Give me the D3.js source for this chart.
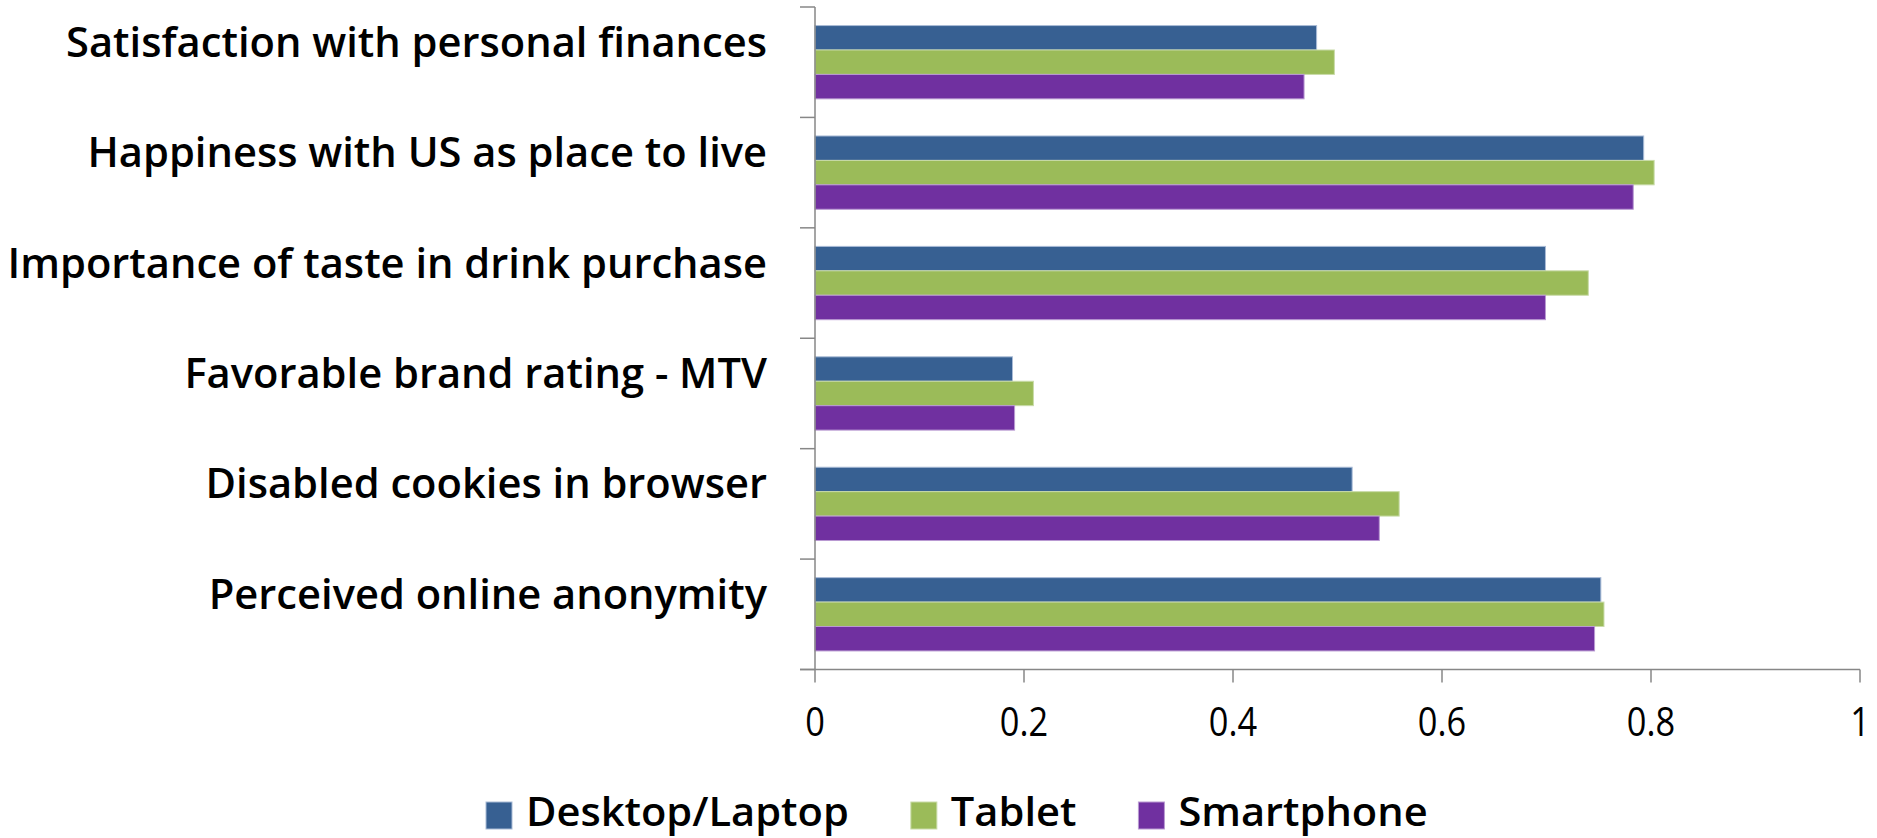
<!DOCTYPE html>
<html>
<head>
<meta charset="utf-8">
<script src="https://cdn.jsdelivr.net/npm/d3@7"></script>
<style>
  html, body { margin: 0; padding: 0; background: #fff; }
  svg { display: block; }
</style>
</head>
<body>
<div id="chart"></div>
<script>
// categories, top to bottom
const categories = [
    'Satisfaction with personal finances',
    'Happiness with US as place to live',
    'Importance of taste in drink purchase',
    'Favorable brand rating - MTV',
    'Disabled cookies in browser',
    'Perceived online anonymity'
];
const seriesNames = ['Desktop/Laptop', 'Tablet', 'Smartphone'];
const desktopValues = [0.480, 0.793, 0.699, 0.189, 0.514, 0.752];
const tabletValues = [0.497, 0.803, 0.740, 0.209, 0.559, 0.755];
const smartphoneValues = [0.468, 0.783, 0.699, 0.191, 0.540, 0.746];
const xTicks = [0, 0.2, 0.4, 0.6, 0.8, 1];

const seriesValues = [desktopValues, tabletValues, smartphoneValues];
const colors = ['#376092', '#9BBB59', '#7030A0'];
const strokes = ['#a9bbd6', '#c9dba8', '#b99ad2'];

const width = 1877;
const height = 838;
const plot = { left: 815, right: 1860, top: 7, bottom: 669.5 };

const svg = d3.select('#chart')
    .append('svg')
    .attr('width', width)
    .attr('height', height);

// scales
const xScale = d3.scaleLinear()
    .domain([0, 1])
    .range([plot.left, plot.right]);

const yScale = d3.scaleBand()
    .domain(categories)
    .range([plot.top, plot.bottom])
    .padding(0);

const ySeries = d3.scaleBand()
    .domain(seriesNames)
    .range([0, yScale.bandwidth()])
    .paddingInner(0)
    .paddingOuter(0.76);

// bars
const rows = categories.map((c, i) => ({
    category: c,
    values: seriesNames.map((s, j) => ({ series: s, idx: j, value: seriesValues[j][i] }))
}));

const groups = svg.selectAll('.group')
    .data(rows)
    .enter()
    .append('g')
    .attr('class', 'group')
    .attr('transform', d => `translate(0, ${yScale(d.category)})`);

groups.selectAll('rect')
    .data(d => d.values)
    .enter()
    .append('rect')
    .attr('x', xScale(0))
    .attr('y', d => ySeries(d.series))
    .attr('width', d => xScale(d.value) - xScale(0))
    .attr('height', ySeries.bandwidth())
    .attr('fill', d => colors[d.idx])
    .attr('stroke', d => strokes[d.idx])
    .attr('stroke-width', 1);

// axes
const axisColor = '#878787';
const boundaries = categories.map(c => yScale(c)).concat([plot.bottom]);

svg.append('line')
    .attr('x1', xScale(0)).attr('x2', xScale(0))
    .attr('y1', plot.top).attr('y2', plot.bottom)
    .attr('stroke', axisColor).attr('stroke-width', 1.5);

svg.selectAll('.ytick')
    .data(boundaries)
    .enter()
    .append('line')
    .attr('class', 'ytick')
    .attr('x1', xScale(0) - 15).attr('x2', xScale(0))
    .attr('y1', d => d).attr('y2', d => d)
    .attr('stroke', axisColor).attr('stroke-width', 1.5);

svg.append('line')
    .attr('x1', xScale(0) - 15).attr('x2', xScale(1))
    .attr('y1', plot.bottom).attr('y2', plot.bottom)
    .attr('stroke', axisColor).attr('stroke-width', 1.5);

svg.selectAll('.xtick')
    .data(xTicks)
    .enter()
    .append('line')
    .attr('class', 'xtick')
    .attr('x1', d => xScale(d)).attr('x2', d => xScale(d))
    .attr('y1', plot.bottom).attr('y2', plot.bottom + 13)
    .attr('stroke', axisColor).attr('stroke-width', 1.5);

const tickLabels = svg.selectAll('.xlabel')
    .data(xTicks)
    .enter()
    .append('text')
    .attr('class', 'xlabel')
    .attr('font-family', 'Open Sans')
    .attr('font-size', 40)
    .attr('fill', '#000')
    .attr('text-anchor', 'middle')
    .text(d => d3.format('')(d));

// squeeze tick labels a bit, like the narrow original font
const tickSx = 0.86;
tickLabels.attr('transform', d => `translate(${xScale(d)}, 736) scale(${tickSx}, 1)`);

// category labels
const catLabels = svg.selectAll('.ylabel')
    .data(categories)
    .enter()
    .append('text')
    .attr('class', 'ylabel')
    .attr('font-family', 'Open Sans')
    .attr('font-weight', 600)
    .attr('font-size', 42)
    .attr('fill', '#000')
    .attr('text-anchor', 'end')
    .attr('dominant-baseline', 'central')
    .text(d => d);

const firstWidth = catLabels.node().getComputedTextLength();
const catSx = 701 / firstWidth;
catLabels.attr('transform', d =>
    `translate(767, ${yScale(d) + yScale.bandwidth() / 2 - 22}) scale(${catSx}, 1)`);

// legend
const legend = svg.append('g').attr('class', 'legend');
let lx = 486;
let legSx = null;
seriesNames.forEach((name, i) => {
    legend.append('rect')
        .attr('x', lx)
        .attr('y', 802)
        .attr('width', 26)
        .attr('height', 27)
        .attr('fill', colors[i])
        .attr('stroke', strokes[i])
        .attr('stroke-width', 1);
    const t = legend.append('text')
        .attr('font-family', 'Open Sans')
        .attr('font-weight', 600)
        .attr('font-size', 40)
        .attr('fill', '#000')
        .text(name);
    if (legSx === null) legSx = 323 / t.node().getComputedTextLength();
    t.attr('transform', `translate(${lx + 40}, 826) scale(${legSx}, 1)`);
    lx = lx + 40 + t.node().getComputedTextLength() * legSx + 62;
});
</script>
</body>
</html>
